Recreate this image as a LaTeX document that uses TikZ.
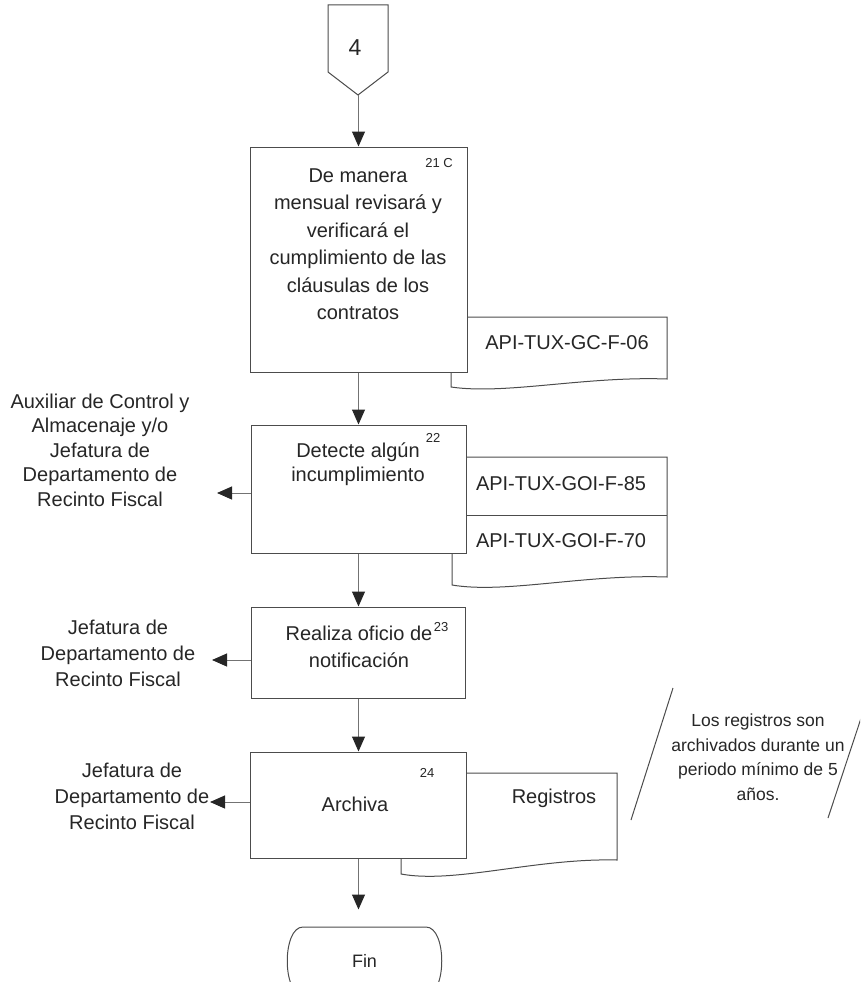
\documentclass[tikz,border=0pt]{standalone}
\usepackage{fontspec}
\setmainfont{Liberation Sans}
\usetikzlibrary{arrows.meta}
\begin{document}
\begin{tikzpicture}[x=1pt, y=-1pt, line width=1pt,
  every node/.style={font=\fontsize{20}{26}\selectfont, text=black!85},
  proc/.style={draw=black!70, fill=white, inner sep=0pt, minimum width=216pt},
  txt/.style={align=center, inner sep=0pt},
  num/.style={font=\fontsize{13}{13}\selectfont, inner sep=0pt},
  doc/.style={draw=black!70, fill=white},
  arr/.style={draw=black!55, -{Triangle[length=15pt, width=13pt, color=black!85]}}]
\clip (0,0) rectangle (860,982);
\draw[doc] (328,5) -- (388,5) -- (388,72) -- (358,95) -- (328,72) -- cycle;
\node[font=\fontsize{23}{23}\selectfont] (c4) at (355,48) {4};
\coordinate (ctip) at (358.5,95);
\draw[doc] (451,317) -- (667,317) -- (667,379) .. controls (585,376) and (505,395) .. (451,387) -- cycle;
\node (f06) at (567,343) {API-TUX-GC-F-06};
\node[proc, minimum width=217pt, minimum height=225pt] (b1) at (358.5,259.5) {};
\node[txt, font=\fontsize{20}{27.5}\selectfont] (t1) at (358,244) {De manera\\mensual revisará y\\verificará el\\cumplimiento de las\\cláusulas de los\\contratos};
\node[num] (n21) at (439,163) {21 C};
\draw[doc] (452,457) -- (667,457) -- (667,577) .. controls (585,574) and (505,594) .. (452,585) -- cycle;
\draw[doc] (467,515) -- (667,515);
\node (f85) at (561,484) {API-TUX-GOI-F-85};
\node (f70) at (561,541) {API-TUX-GOI-F-70};
\node[proc, minimum width=215pt, minimum height=128pt] (b2) at (358.5,489) {};
\node[txt, font=\fontsize{20}{23.5}\selectfont] (t2) at (358,464) {Detecte algún\\incumplimiento};
\node[num] (n22) at (433,438) {22};
\node[proc, minimum width=214pt, minimum height=91pt] (b3) at (358.5,652.5) {};
\node[txt, font=\fontsize{20}{27}\selectfont] (t3) at (359,647) {Realiza oficio de\\notificación};
\node[num] (n23) at (441,627) {23};
\draw[doc] (401,773) -- (617,773) -- (617,860) .. controls (535,858) and (455,884) .. (401,874) -- cycle;
\node (reg) at (554,798) {Registros};
\node[proc, minimum width=216pt, minimum height=106pt] (b4) at (358.5,805) {};
\node (t4) at (355,804) {Archiva};
\node[num] (n24) at (427,773) {24};
\node[minimum width=155pt, minimum height=68pt, font=\fontsize{18}{18}\selectfont] (fin) at (364.5,961) {Fin};
\draw[draw=black!70] (303,927) -- (426,927) .. controls (447,927) and (447,995) .. (426,995) -- (303,995) .. controls (282,995) and (282,927) .. (303,927) -- cycle;
\node[txt, font=\fontsize{20}{24.5}\selectfont] (lab2) at (100,450) {Auxiliar de Control y\\Almacenaje y/o\\Jefatura de\\Departamento de\\Recinto Fiscal};
\node[txt] (lab3) at (118,653) {Jefatura de\\Departamento de\\Recinto Fiscal};
\node[txt] (lab4) at (132,796) {Jefatura de\\Departamento de\\Recinto Fiscal};
\node[txt, font=\fontsize{17.5}{24.5}\selectfont] (note) at (758,757) {Los registros son\\archivados durante un\\periodo mínimo de 5\\años.};
\draw[draw=black!70] (673,688) -- (631,820);
\draw[draw=black!70] (871,688) -- (828,818);
\coordinate (p2) at (217,493);
\coordinate (p3) at (212,660);
\coordinate (p4) at (210,802);
\draw[arr] (ctip) -- (b1.north);
\draw[arr] (b1.south) -- (b2.north);
\draw[arr] (b2.south) -- (b3.north);
\draw[arr] (b3.south) -- (b4.north);
\draw[arr, shorten >=17pt] (b4.south) -- (b4.south |- fin.north);
\draw[arr] (b2.west |- p2) -- (p2);
\draw[arr] (b3.west |- p3) -- (p3);
\draw[arr] (b4.west |- p4) -- (p4);
\end{tikzpicture}
\end{document}
